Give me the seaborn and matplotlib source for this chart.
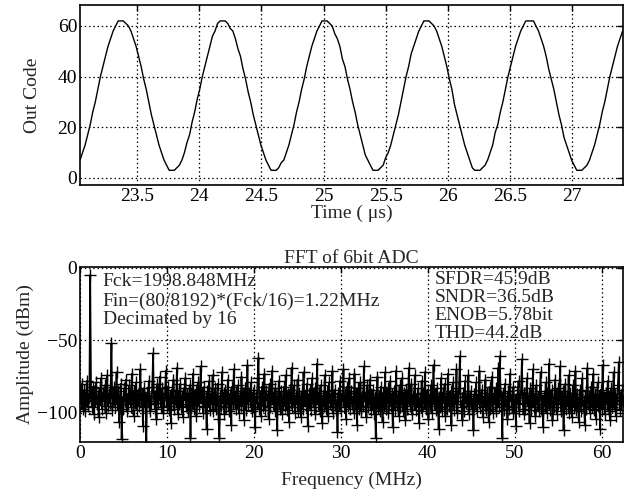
import numpy as np
import matplotlib
matplotlib.use("Agg")
import matplotlib.pyplot as plt
import seaborn as sns

# ----------------------------
# Time-domain output codes (read every ~0.0205 us from 23.04 us)
# ----------------------------
t_start = 23.04
t_step = 0.0205
out_code = [
    7, 10, 13, 17, 21, 26, 30, 35, 40, 44, 48, 52, 55, 58, 60, 62, 62, 62, 61, 60,
    58, 55, 52, 48, 44, 39, 35, 30, 25, 21, 17, 13, 10, 7, 5, 3, 3, 3, 4, 5,
    7, 10, 14, 17, 22, 26, 31, 35, 40, 44, 48, 52, 56, 58, 61, 62, 62, 62, 61, 59,
    58, 55, 51, 48, 43, 39, 34, 30, 25, 21, 17, 13, 10, 7, 5, 3, 3, 3, 4, 6,
    7, 10, 13, 17, 21, 26, 30, 35, 39, 44, 48, 52, 55, 58, 60, 62, 62, 62, 61, 60,
    57, 55, 52, 47, 44, 39, 35, 30, 26, 21, 17, 13, 9, 7, 5, 3, 3, 3, 4, 5,
    8, 10, 13, 17, 21, 25, 30, 35, 40, 44, 49, 52, 55, 58, 60, 62, 62, 62, 61, 60,
    58, 55, 52, 48, 44, 39, 35, 29, 25, 21, 17, 13, 10, 7, 4, 3, 3, 3, 4, 5,
    7, 10, 13, 18, 21, 26, 30, 35, 40, 44, 48, 52, 55, 58, 60, 62, 62, 62, 62, 60,
    58, 55, 52, 48, 43, 39, 35, 30, 25, 21, 16, 13, 10, 7, 5, 3, 3, 3, 4, 5,
    7, 10, 13, 17, 21, 26, 30, 35, 40, 44, 48, 52, 55, 58,
]

# ----------------------------
# FFT amplitude in dBm, bins spread evenly from 0 to Fs/2
# ----------------------------
fs_half = 62.45
fft_db = [
    -86, -93, -80, -97, -89, -84, -99, -91, -78, -95, -87, -90, -5, -88, -96, -82, -101, -85, -92, -79,
    -94, -88, -103, -83, -91, -76, -97, -86, -92, -81, -100, -89, -74, -95, -87, -93, -84, -52, -98, -90,
    -82, -96, -88, -72, -94, -85, -106, -91, -80, -118, -89, -97, -83, -92, -77, -99, -87, -94, -81, -90,
    -96, -73, -88, -102, -85, -93, -79, -98, -90, -84, -95, -70, -91, -87, -109, -83, -96, -89, -121, -86,
    -92, -78, -99, -88, -94, -82, -59, -90, -97, -85, -104, -80, -93, -87, -75, -96, -89, -83, -100, -91,
    -86, -71, -95, -90, -82, -98, -88, -107, -84, -93, -77, -97, -89, -92, -69, -101, -85, -94, -80, -96,
    -88, -103, -83, -91, -76, -95, -87, -99, -90, -81, -117, -86, -94, -73, -97, -89, -84, -102, -92, -79,
    -95, -88, -68, -93, -86, -100, -82, -96, -90, -111, -85, -92, -78, -98, -87, -94, -74, -99, -89, -83,
    -97, -91, -80, -104, -117, -88, -95, -72, -93, -86, -101, -84, -96, -90, -77, -99, -87, -92, -108, -82,
    -94, -70, -89, -97, -85, -93, -81, -100, -88, -95, -75, -91, -86, -105, -83, -98, -90, -67, -94, -87,
    -92, -79, -99, -86, -96, -84, -110, -89, -93, -76, -62, -97, -88, -102, -82, -95, -90, -73, -98, -85,
    -91, -87, -104, -80, -96, -89, -71, -94, -86, -99, -83, -92, -112, -88, -78, -97, -90, -85, -101, -93,
    -82, -95, -74, -89, -98, -87, -106, -84, -93, -69, -96, -90, -81, -100, -88, -94, -77, -99, -86, -92,
    -103, -85, -97, -72, -91, -88, -95, -80, -109, -87, -93, -84, -98, -76, -90, -96, -83, -101, -89, -66,
    -94, -86, -99, -81, -92, -107, -88, -95, -74, -97, -90, -85, -102, -79, -93, -87, -96, -71, -100, -89,
    -84, -98, -91, -113, -86, -94, -78, -99, -88, -92, -70, -96, -87, -104, -82, -95, -90, -76, -97, -85,
    -93, -89, -100, -73, -94, -86, -108, -83, -97, -91, -79, -99, -88, -95, -68, -92, -86, -103, -81, -96,
    -90, -77, -98, -87, -94, -84, -101, -89, -117, -93, -75, -96, -88, -99, -82, -91, -106, -86, -95, -72,
    -97, -89, -83, -100, -92, -78, -95, -87, -110, -90, -85, -98, -71, -94, -88, -102, -81, -96, -90, -76,
    -99, -86, -93, -105, -84, -97, -89, -69, -95, -91, -80, -101, -88, -94, -74, -98, -87, -92, -83, -107,
    -90, -96, -78, -99, -86, -93, -72, -97, -89, -84, -104, -91, -95, -81, -100, -88, -67, -94, -87, -98,
    -83, -92, -111, -89, -96, -76, -99, -86, -93, -80, -102, -90, -97, -73, -95, -88, -85, -108, -91, -79,
    -98, -87, -94, -70, -100, -89, -83, -61, -96, -92, -105, -86, -99, -78, -93, -88, -95, -74, -101, -90,
    -85, -97, -91, -112, -87, -94, -79, -99, -88, -93, -71, -96, -90, -84, -103, -89, -95, -77, -98, -86,
    -92, -106, -82, -97, -89, -75, -100, -87, -94, -83, -99, -91, -69, -96, -61, -88, -93, -117, -86, -98,
    -80, -95, -90, -104, -85, -97, -73, -92, -88, -100, -82, -96, -91, -109, -87, -94, -78, -99, -89, -84,
    -63, -93, -101, -86, -97, -90, -76, -95, -88, -107, -83, -98, -92, -70, -96, -87, -102, -81, -94, -89,
    -99, -85, -72, -97, -91, -110, -88, -95, -79, -100, -86, -93, -66, -98, -90, -84, -105, -92, -96, -77,
    -89, -101, -83, -94, -87, -68, -99, -91, -85, -112, -93, -80, -97, -88, -95, -74, -100, -86, -92, -103,
    -81, -96, -90, -71, -98, -87, -94, -106, -84, -99, -89, -76, -95, -92, -108, -85, -97, -69, -93, -88,
    -100, -82, -96, -90, -73, -98, -87, -104, -91, -79, -95, -88, -111, -84, -97, -67, -93, -89, -101, -86,
    -94, -78, -99, -88, -105, -83, -96, -91, -72, -97, -87, -102, -90, -81, -65, -98, -89, -94, -84, -92,
]

left_text = "Fck=1998.848MHz\nFin=(80/8192)*(Fck/16)=1.22MHz\nDecimated by 16"
right_text = "SFDR=45.9dB\nSNDR=36.5dB\nENOB=5.78bit\nTHD=44.2dB"

time_us = t_start + t_step * np.arange(len(out_code))
freq_mhz = np.linspace(0, fs_half, len(fft_db))

# ----------------------------
# Style
# ----------------------------
sns.set_style("white")
plt.rcParams["font.family"] = ["Liberation Serif", "DejaVu Serif"]
plt.rcParams["font.size"] = 14
plt.rcParams["axes.unicode_minus"] = True

fig = plt.figure(figsize=(6.32, 4.97), dpi=100)
ax1 = fig.add_axes([0.1266, 0.6278, 0.8592, 0.3622])
ax2 = fig.add_axes([0.1266, 0.1107, 0.8592, 0.3527])


def matlab_axes(ax):
    for s in ax.spines.values():
        s.set_visible(True)
        s.set_color("black")
        s.set_linewidth(1.2)
    ax.tick_params(direction="in", length=4, width=1, colors="black",
                   top=True, right=True, labelsize=14)
    ax.tick_params(axis="y", pad=2)
    ax.tick_params(axis="x", pad=2)
    ax.grid(True, color="black", linestyle=(0, (1.2, 2.2)), linewidth=0.9)
    ax.set_axisbelow(True)


# ----------------------------
# 1. Time domain
# ----------------------------
sns.lineplot(x=time_us, y=out_code, ax=ax1, color="black", linewidth=1.0)
ax1.set_xlim(23.04, 27.41)
ax1.set_ylim(-2.8, 68.3)
ax1.set_xticks([23.5, 24, 24.5, 25, 25.5, 26, 26.5, 27])
ax1.set_xticklabels(["23.5", "24", "24.5", "25", "25.5", "26", "26.5", "27"])
ax1.set_yticks([0, 20, 40, 60])
matlab_axes(ax1)
ax1.set_xlabel("Time ( μs)", fontsize=14)
ax1.set_ylabel("Out Code", fontsize=14)
ax1.xaxis.set_label_coords(0.5, -0.11)
ax1.yaxis.set_label_coords(-0.072, 0.5)

# ----------------------------
# 2. Spectrum
# ----------------------------
sns.lineplot(x=freq_mhz, y=fft_db, ax=ax2, color="black", linewidth=1.25,
             marker="+", markersize=9, markeredgewidth=1.0,
             markeredgecolor="black")
ax2.set_xlim(0, fs_half)
ax2.set_ylim(-120, 0.7)
ax2.set_xticks([0, 10, 20, 30, 40, 50, 60])
ax2.set_yticks([0, -50, -100])
matlab_axes(ax2)
ax2.set_title("FFT of 6bit ADC", fontsize=14, pad=3)
ax2.set_xlabel("Frequency (MHz)", fontsize=14)
ax2.set_ylabel("Amplitude (dBm)", fontsize=14)
ax2.xaxis.set_label_coords(0.5, -0.17)
ax2.yaxis.set_label_coords(-0.085, 0.5)

ax2.text(2.6, -3.8, left_text, ha="left", va="top", fontsize=14, linespacing=1.15)
ax2.text(40.8, -2.3, right_text, ha="left", va="top", fontsize=14, linespacing=1.08)

fig.savefig("out.png", dpi=100)
